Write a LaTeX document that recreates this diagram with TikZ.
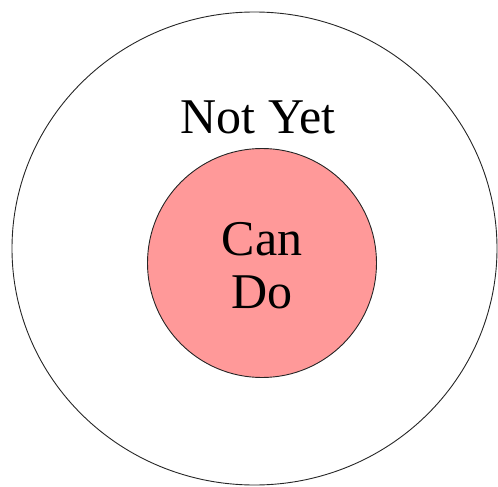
\documentclass[tikz,border=0pt]{standalone}
\usepackage{fontspec}
\setmainfont{Liberation Serif}
\definecolor{candopink}{RGB}{255,153,153}
\begin{document}
\begin{tikzpicture}[x=1pt,y=-1pt,
  ring/.style={draw=black!85,line width=0.9pt},
  lbl/.style={font=\fontsize{50}{53}\selectfont,anchor=base,inner sep=0pt}]
\useasboundingbox (0,0) rectangle (498,487);
\draw[ring] (254.5,248.5) ellipse [x radius=242.5,y radius=236.5];
\node[ring,fill=candopink,circle,minimum size=229pt,inner sep=0pt] (cando) at (262,263) {};
\node[lbl] (notyet) at (258,133) {Not Yet};
\node[lbl] (can) at (262,255) {Can};
\node[lbl] (do) at (262,308) {Do};
\end{tikzpicture}
\end{document}
